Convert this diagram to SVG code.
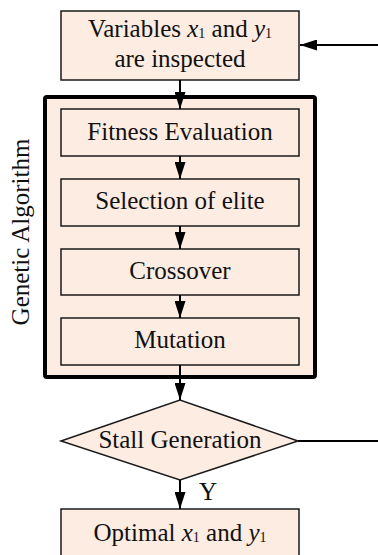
<svg xmlns="http://www.w3.org/2000/svg" width="378" height="555" viewBox="0 0 378 555">
<style>
.box{fill:#fdece2;stroke:#1a1a1a;stroke-width:1.5}
.ga{fill:#fdece2;stroke:#000;stroke-width:4}
.t{font-family:"Liberation Serif","Times New Roman",serif;font-size:25px;fill:#111;text-anchor:middle}
.sub{font-size:14px;font-style:normal}
.it{font-style:italic}
.c{stroke:#000;stroke-width:2;fill:none}
</style>
<defs>
<marker id="av" viewBox="0 0 17 11" refX="17" refY="5.5" markerWidth="17" markerHeight="11" markerUnits="userSpaceOnUse" orient="auto">
<path d="M0,0 L17,5.5 L0,11 Z" fill="#000"/>
</marker>
</defs>
<g id="ga-group">
<rect class="ga" x="45" y="97" width="270" height="280" rx="2"/>
<text class="t" transform="translate(29,232) rotate(-90)">Genetic Algorithm</text>
</g>
<g id="inspect">
<rect class="box" x="61" y="11" width="238" height="69"/>
<text class="t" x="180" y="37">Variables <tspan class="it">x</tspan><tspan class="sub" dy="1">1</tspan><tspan dy="-1"> and </tspan><tspan class="it">y</tspan><tspan class="sub" dy="1">1</tspan></text>
<text class="t" x="180" y="67">are inspected</text>
</g>
<g id="fitness">
<rect class="box" x="61" y="109" width="238" height="47"/>
<text class="t" x="180" y="140">Fitness Evaluation</text>
</g>
<g id="selection">
<rect class="box" x="61" y="179" width="238" height="47"/>
<text class="t" x="180" y="209">Selection of elite</text>
</g>
<g id="crossover">
<rect class="box" x="61" y="249" width="238" height="46"/>
<text class="t" x="180" y="279">Crossover</text>
</g>
<g id="mutation">
<rect class="box" x="61" y="318" width="238" height="47"/>
<text class="t" x="180" y="348">Mutation</text>
</g>
<g id="stall">
<polygon class="box" points="61,441 180,400 298,441 180,480"/>
<text class="t" x="180" y="448">Stall Generation</text>
</g>
<g id="optimal">
<rect class="box" x="61" y="509" width="238" height="60"/>
<text class="t" x="180" y="541">Optimal <tspan class="it">x</tspan><tspan class="sub" dy="1">1</tspan><tspan dy="-1"> and </tspan><tspan class="it">y</tspan><tspan class="sub" dy="1">1</tspan></text>
</g>
<g id="connectors">
<line class="c" x1="378" y1="45" x2="300" y2="45" marker-end="url(#av)"/>
<line class="c" x1="180" y1="80" x2="180" y2="109" marker-end="url(#av)"/>
<line class="c" x1="180" y1="156" x2="180" y2="179" marker-end="url(#av)"/>
<line class="c" x1="180" y1="226" x2="180" y2="249" marker-end="url(#av)"/>
<line class="c" x1="180" y1="295" x2="180" y2="318" marker-end="url(#av)"/>
<line class="c" x1="180" y1="365" x2="180" y2="400" marker-end="url(#av)"/>
<line class="c" x1="180" y1="480" x2="180" y2="509" marker-end="url(#av)"/>
<line class="c" x1="298" y1="441" x2="378" y2="441"/>
<text class="t" x="208" y="500">Y</text>
</g>
</svg>
